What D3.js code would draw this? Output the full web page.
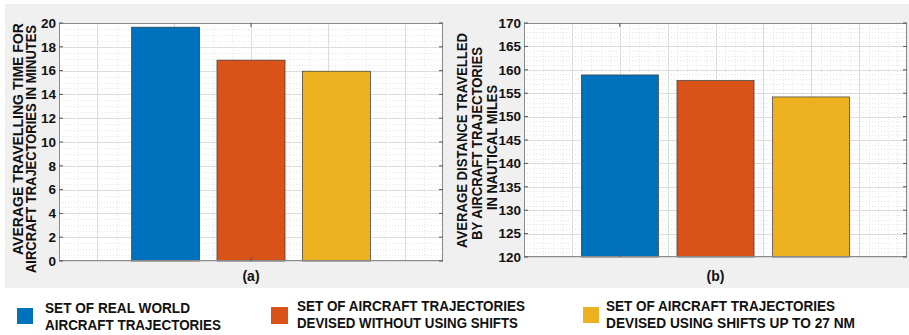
<!DOCTYPE html>
<html><head><meta charset="utf-8">
<script src="https://cdn.jsdelivr.net/npm/d3@7"></script>
<style>
body{margin:0;background:#fff;}
svg{display:block;font-family:"Liberation Sans",Arial,sans-serif;}
</style></head>
<body><svg id="c" width="909" height="335"></svg>
<script>
// ---- data ----
const categories = ["SET OF REAL WORLD AIRCRAFT TRAJECTORIES",
  "SET OF AIRCRAFT TRAJECTORIES DEVISED WITHOUT USING SHIFTS",
  "SET OF AIRCRAFT TRAJECTORIES DEVISED USING SHIFTS UP TO 27 NM"];
const colors = ["#0072BD", "#D95319", "#EDB120"];
const travelTime = [19.65, 16.88, 15.95];
const distance = [158.9, 157.7, 154.2];
const timeTicks = [0, 2, 4, 6, 8, 10, 12, 14, 16, 18, 20];
const distTicks = [120, 125, 130, 135, 140, 145, 150, 155, 160, 165, 170];
const legendLines = [
  ["SET OF REAL WORLD", "AIRCRAFT TRAJECTORIES"],
  ["SET OF AIRCRAFT TRAJECTORIES", "DEVISED WITHOUT USING SHIFTS"],
  ["SET OF AIRCRAFT TRAJECTORIES", "DEVISED USING SHIFTS UP TO 27 NM"]
];

const svg = d3.select("#c");
svg.append("rect").attr("x", 5).attr("y", 4).attr("width", 904).attr("height", 284).attr("fill", "#f0f0f0");

function panel(o) {
  const g = svg.append("g");
  const y = d3.scaleLinear().domain(o.ydom).range([o.bottom, o.top]);
  const xg = d3.scaleLinear().domain(o.xdom).range([o.left, o.right]);
  const xb = d3.scaleBand().domain(d3.range(3)).range([o.left, o.right])
    .paddingInner(o.pin).paddingOuter(o.pout);
  g.append("rect").attr("x", o.left).attr("y", o.top).attr("width", o.right - o.left)
    .attr("height", o.bottom - o.top).attr("fill", "#fff");
  // minor grid
  const yMinor = d3.range(o.ydom[0], o.ydom[1] + 1e-9, o.yminor);
  g.selectAll(".ymin").data(yMinor).join("line")
    .attr("x1", o.left).attr("x2", o.right).attr("y1", d => Math.round(y(d)) + .5).attr("y2", d => Math.round(y(d)) + .5)
    .attr("stroke", "#e6e6e6").attr("stroke-dasharray", "1,2");
  const xMinor = d3.range(o.xdom[0], o.xdom[1] + 1e-9, o.xminor);
  g.selectAll(".xmin").data(xMinor).join("line")
    .attr("y1", o.top).attr("y2", o.bottom).attr("x1", d => Math.round(xg(d)) + .5).attr("x2", d => Math.round(xg(d)) + .5)
    .attr("stroke", "#e6e6e6").attr("stroke-dasharray", "1,2");
  // major grid
  g.selectAll(".ymaj").data(o.yticks).join("line")
    .attr("x1", o.left).attr("x2", o.right).attr("y1", d => Math.round(y(d)) + .5).attr("y2", d => Math.round(y(d)) + .5)
    .attr("stroke", "#dcdcdc");
  g.selectAll(".xmaj").data(o.xmajor).join("line")
    .attr("y1", o.top).attr("y2", o.bottom).attr("x1", d => Math.round(xg(d)) + .5).attr("x2", d => Math.round(xg(d)) + .5)
    .attr("stroke", "#dcdcdc");
  // bars
  g.selectAll(".bar").data(o.values).join("rect")
    .attr("x", (d, i) => xb(i)).attr("width", xb.bandwidth())
    .attr("y", d => y(d)).attr("height", d => o.bottom - y(d))
    .attr("fill", (d, i) => colors[i]).attr("stroke", "#3a3a3a").attr("stroke-width", 0.7);
  // box
  g.append("rect").attr("x", o.left + .5).attr("y", o.top + .5).attr("width", o.right - o.left - 1)
    .attr("height", o.bottom - o.top - 1).attr("fill", "none").attr("stroke", "#8a8a8a");
  // y ticks left/right (inward)
  const tl = 4;
  g.selectAll(".tkl").data(o.yticks).join("line")
    .attr("x1", o.left).attr("x2", o.left + tl).attr("y1", d => y(d)).attr("y2", d => y(d)).attr("stroke", "#555");
  g.selectAll(".tkr").data(o.yticks).join("line")
    .attr("x1", o.right - tl).attr("x2", o.right).attr("y1", d => y(d)).attr("y2", d => y(d)).attr("stroke", "#555");
  // x tick top/bottom
  g.selectAll(".tkt").data([o.xtick]).join("line")
    .attr("x1", d => xg(d)).attr("x2", d => xg(d)).attr("y1", o.top).attr("y2", o.top + tl).attr("stroke", "#555");
  g.selectAll(".tkb").data([o.xtick]).join("line")
    .attr("x1", d => xg(d)).attr("x2", d => xg(d)).attr("y1", o.bottom - tl).attr("y2", o.bottom).attr("stroke", "#555");
  // tick labels
  g.selectAll(".tl").data(o.yticks).join("text")
    .attr("x", o.left - 3).attr("y", d => y(d)).attr("dy", "0.36em").attr("text-anchor", "end")
    .attr("font-size", 13.5).attr("font-weight", "bold").attr("fill", "#111").text(d => d);
  // x label
  g.append("text").attr("x", (o.left + o.right) / 2).attr("y", 281).attr("text-anchor", "middle")
    .attr("font-size", 14).attr("font-weight", "bold").attr("fill", "#111").text(o.xlabel);
  // y label lines
  o.ylabel.forEach(l => {
    g.append("text").attr("transform", `translate(${l.x},${l.cy}) rotate(-90)`)
      .attr("text-anchor", "middle").attr("font-size", 14).attr("font-weight", "bold").attr("fill", "#111")
      .attr("textLength", l.len).attr("lengthAdjust", "spacingAndGlyphs").text(l.t);
  });
}

panel({
  left: 59, right: 443, top: 23, bottom: 261, ydom: [0, 20], yticks: timeTicks, yminor: 0.5,
  xdom: [0.5, 1.5], xmajor: [0.6, 0.8, 1.0, 1.2, 1.4], xminor: 0.05, xtick: 1.0,
  pin: 0.203, pout: 0.85, values: travelTime, xlabel: "(a)",
  ylabel: [
    {t: "AVERAGE TRAVELLING TIME FOR", x: 23, cy: 139, len: 232},
    {t: "AIRCRAFT TRAJECTORIES IN MINUTES", x: 36, cy: 149, len: 248}
  ]
});
panel({
  left: 524, right: 907, top: 23, bottom: 257, ydom: [120, 170], yticks: distTicks, yminor: 1,
  xdom: [0, 4], xmajor: [0.5, 1, 1.5, 2, 2.5, 3, 3.5], xminor: 0.1, xtick: 1,
  pin: 0.194, pout: 0.60, values: distance, xlabel: "(b)",
  ylabel: [
    {t: "AVERAGE DISTANCE TRAVELLED", x: 467, cy: 140.5, len: 215},
    {t: "BY AIRCRAFT TRAJECTORIES", x: 482, cy: 143.5, len: 193},
    {t: "IN NAUTICAL MILES", x: 497, cy: 147.5, len: 125}
  ]
});

// legend
const leg = [
  {sx: 17, sy: 308, s: 16, tx: 45, b1: 313, w: [145, 176]},
  {sx: 271, sy: 307, s: 17, tx: 297, b1: 311, w: [228, 221]},
  {sx: 583, sy: 307, s: 16, tx: 606, b1: 311, w: [229, 249]}
];
leg.forEach((L, i) => {
  svg.append("rect").attr("x", L.sx).attr("y", L.sy).attr("width", L.s).attr("height", L.s).attr("fill", colors[i]);
  legendLines[i].forEach((t, j) => {
    svg.append("text").attr("x", L.tx).attr("y", L.b1 + j * 17)
      .attr("font-size", 15).attr("font-weight", "bold").attr("fill", "#111")
      .attr("textLength", L.w[j]).attr("lengthAdjust", "spacingAndGlyphs").text(t);
  });
});
</script></body></html>
